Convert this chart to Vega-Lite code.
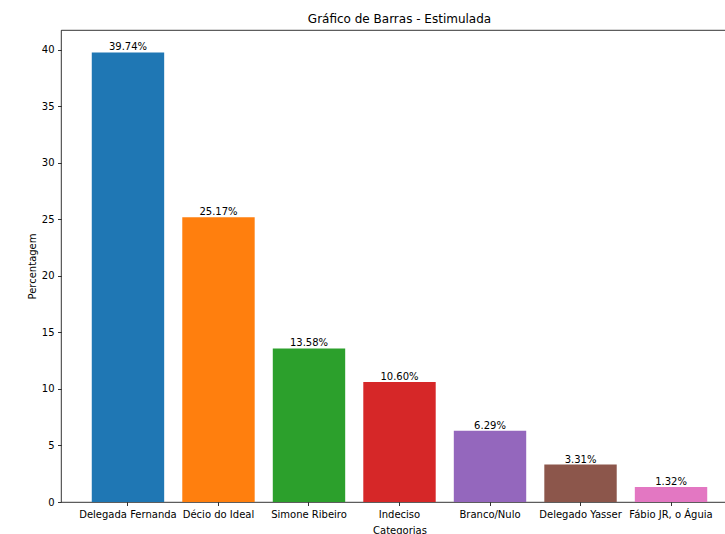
{
  "$schema": "https://vega.github.io/schema/vega-lite/v6.json",
  "width": 677,
  "height": 472,
  "autosize": {"type": "none"},
  "padding": {"left": 61, "top": 30, "right": 0, "bottom": 32},
  "background": "white",
  "title": {"text": "Gráfico de Barras - Estimulada", "font": "DejaVu Sans", "fontSize": 12, "fontWeight": "normal", "anchor": "middle", "offset": 4, "color": "#000"},
  "config": {
    "view": {"stroke": "#000", "strokeWidth": 0.8},
    "font": "DejaVu Sans",
    "axis": {"labelFont": "DejaVu Sans", "titleFont": "DejaVu Sans", "labelFontSize": 10, "titleFontSize": 10, "titleFontWeight": "normal", "labelColor": "#000", "titleColor": "#000", "tickColor": "#000", "tickSize": 3.5, "tickWidth": 0.8, "labelPadding": 3.5, "domain": false, "grid": false}
  },
  "data": {
    "values": [
      {"categoria": "Delegada Fernanda", "pct": 39.74, "label": "39.74%"},
      {"categoria": "Décio do Ideal", "pct": 25.17, "label": "25.17%"},
      {"categoria": "Simone Ribeiro", "pct": 13.58, "label": "13.58%"},
      {"categoria": "Indeciso", "pct": 10.60, "label": "10.60%"},
      {"categoria": "Branco/Nulo", "pct": 6.29, "label": "6.29%"},
      {"categoria": "Delegado Yasser", "pct": 3.31, "label": "3.31%"},
      {"categoria": "Fábio JR, o Águia", "pct": 1.32, "label": "1.32%"}
    ]
  },
  "encoding": {
    "x": {"field": "categoria", "type": "nominal", "sort": null,
      "scale": {"paddingInner": 0.2, "paddingOuter": 0.34},
      "axis": {"title": "Categorias", "labelAngle": 0, "titlePadding": 6, "labelLimit": 0}},
    "y": {"field": "pct", "type": "quantitative",
      "scale": {"domain": [0, 41.727], "nice": false, "zero": true},
      "axis": {"title": "Percentagem", "values": [0, 5, 10, 15, 20, 25, 30, 35, 40], "titlePadding": 4}}
  },
  "layer": [
    {"mark": {"type": "bar"},
     "encoding": {"color": {"field": "categoria", "type": "nominal", "sort": null, "legend": null,
       "scale": {"range": ["#1f77b4", "#ff7f0e", "#2ca02c", "#d62728", "#9467bd", "#8c564b", "#e377c2"]}}}},
    {"mark": {"type": "text", "baseline": "bottom", "dy": 0, "fontSize": 10, "color": "#000", "font": "DejaVu Sans"},
     "encoding": {"text": {"field": "label"}}}
  ]
}
